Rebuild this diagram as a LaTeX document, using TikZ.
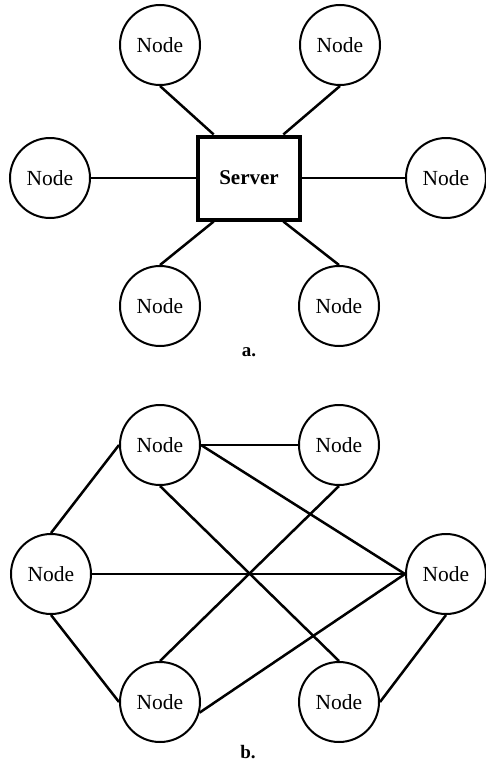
\documentclass[tikz,border=0pt]{standalone}
\usepackage{fontspec}
\setmainfont{Liberation Serif}
\usetikzlibrary{calc}
\begin{document}
\begin{tikzpicture}[x=1pt,y=-1pt,
  pc/.style={circle,draw,line width=2pt,minimum size=80pt,inner sep=0pt,font=\fontsize{21.5}{24}\selectfont},
  srvbox/.style={draw,line width=4pt,minimum width=102pt,minimum height=83pt,inner sep=0pt,font=\fontsize{21}{24}\selectfont\bfseries},
  cn/.style={line width=2.5pt},
  lab/.style={inner sep=0pt,font=\fontsize{19}{22}\selectfont\bfseries}]
\useasboundingbox (0,0) rectangle (486,763);
% ---- part a ----
\node[srvbox] (srv) at (249,178) {Server};
\node[pc] (atl) at (160,45) {Node};
\node[pc] (atr) at (340,45) {Node};
\node[pc] (al) at (50,178) {Node};
\node[pc] (ar) at (446,178) {Node};
\node[pc] (abl) at (160,306) {Node};
\node[pc] (abr) at (339,306) {Node};
\node[lab] (la) at (249,352) {a.};
\coordinate (snw) at ($(srv.north west)!0.167!(srv.north east)$);
\coordinate (sne) at ($(srv.north west)!0.824!(srv.north east)$);
\coordinate (ssw) at ($(srv.south west)!0.167!(srv.south east)$);
\coordinate (sse) at ($(srv.south west)!0.824!(srv.south east)$);
\draw[cn] (atl.south) -- (snw);
\draw[cn] (atr.south) -- (sne);
\draw[cn] (abl.north) -- (ssw);
\draw[cn] (abr.north) -- (sse);
\draw[cn] (al.east) -- (srv.west);
\draw[cn] (ar.west) -- (srv.east);
% ---- part b ----
\node[pc] (btl) at (160,445) {Node};
\node[pc] (btr) at (339,445) {Node};
\node[pc] (bl) at (51,574) {Node};
\node[pc] (br) at (446,574) {Node};
\node[pc] (bbl) at (160,702) {Node};
\node[pc] (bbr) at (339,702) {Node};
\node[lab] (lb) at (248,752) {b.};
\draw[cn] (btl.east) -- (btr.west);
\draw[cn] (btl.west) -- (bl.north);
\draw[cn] (bl.south) -- (bbl.west);
\draw[cn] (btl.east) -- (br.west);
\draw[cn] (btl.south) -- (bbr.north);
\draw[cn] (btr.south) -- (bbl.north);
\draw[cn] (bl.east) -- (br.west);
\draw[cn] (bbl.-15) -- (br.west);
\draw[cn] (bbr.east) -- (br.south);
\end{tikzpicture}
\end{document}
